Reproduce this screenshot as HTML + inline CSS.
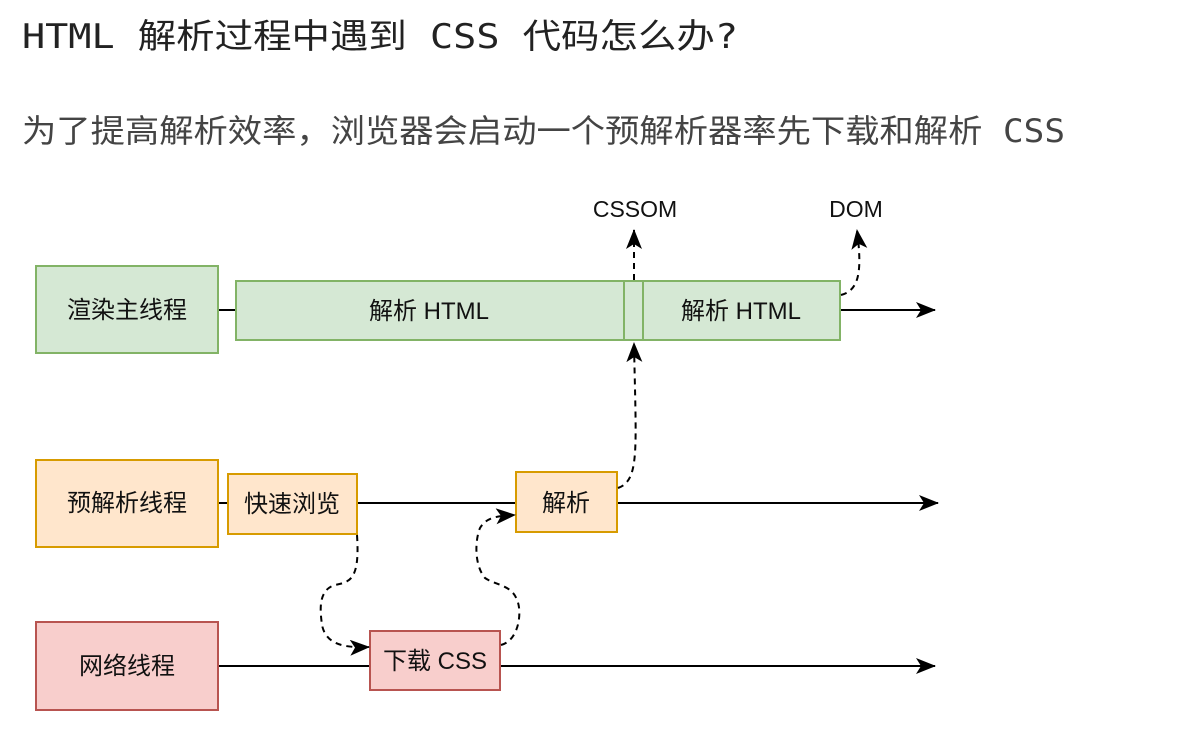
<!DOCTYPE html>
<html><head><meta charset="utf-8"><style>
body{margin:0;background:#fff;width:1195px;height:740px;overflow:hidden}
svg{display:block}
.t{font-family:"Liberation Sans","Noto Sans CJK SC",sans-serif;fill:#111;font-size:24px}
</style></head><body>
<svg width="1195" height="740" viewBox="0 0 1195 740">
<defs>
<marker id="b" markerWidth="22" markerHeight="18" refX="19" refY="8" orient="auto" markerUnits="userSpaceOnUse"><path d="M0,0 L20,8 L0,16 L5,8z" fill="#000"/></marker></defs>
<text x="22" y="48" textLength="716" lengthAdjust="spacingAndGlyphs" style="font-family:'DejaVu Sans Mono','Noto Sans CJK SC',monospace;font-size:34px;fill:#222">HTML 解析过程中遇到 CSS 代码怎么办?</text>
<text x="22" y="142" textLength="1043" lengthAdjust="spacingAndGlyphs" style="font-family:'DejaVu Sans Mono','Noto Sans CJK SC',monospace;font-size:32px;fill:#444">为了提高解析效率，浏览器会启动一个预解析器率先下载和解析 CSS</text>
<g stroke="#000" stroke-width="2" fill="none">
<line x1="218" y1="310" x2="236" y2="310"/>
<line x1="840" y1="310" x2="935" y2="310" marker-end="url(#b)"/>
<line x1="218" y1="503" x2="228" y2="503"/>
<line x1="357" y1="503" x2="516" y2="503"/>
<line x1="617" y1="503" x2="938" y2="503" marker-end="url(#b)"/>
<line x1="218" y1="666" x2="370" y2="666"/>
<line x1="500" y1="666" x2="935" y2="666" marker-end="url(#b)"/>
</g>
<g stroke-width="2">
<rect x="36" y="266" width="182" height="87" fill="#d5e8d4" stroke="#82b366"/>
<rect x="236" y="281" width="388" height="59" fill="#d5e8d4" stroke="#82b366"/>
<rect x="624" y="281" width="19" height="59" fill="#d5e8d4" stroke="#82b366"/>
<rect x="643" y="281" width="197" height="59" fill="#d5e8d4" stroke="#82b366"/>
<rect x="36" y="460" width="182" height="87" fill="#ffe6cc" stroke="#d79b00"/>
<rect x="228" y="474" width="129" height="60" fill="#ffe6cc" stroke="#d79b00"/>
<rect x="516" y="472" width="101" height="60" fill="#ffe6cc" stroke="#d79b00"/>
<rect x="36" y="622" width="182" height="88" fill="#f8cecc" stroke="#b85450"/>
<rect x="370" y="631" width="130" height="59" fill="#f8cecc" stroke="#b85450"/>
</g>
<g stroke="#000" stroke-width="2" fill="none" stroke-dasharray="6 5">
<path d="M634,280 L634,230" marker-end="url(#b)"/>
<path d="M841,295 C860,290 862,270 857,230" marker-end="url(#b)"/>
<path d="M618,488 C640,480 636,450 634,343" marker-end="url(#b)"/>
<path d="M357,535 C360,580 350,582 335,585 C318,590 320,610 322,625 C326,645 345,648 369,647" marker-end="url(#b)"/>
<path d="M501,645 C520,640 522,610 517,600 C512,585 495,585 485,578 C474,565 475,540 480,528 C487,516 500,516 515,515" marker-end="url(#b)"/>
</g>
<g class="t" text-anchor="middle">
<text x="127" y="318">渲染主线程</text>
<text x="429" y="319">解析 HTML</text>
<text x="741" y="319">解析 HTML</text>
<text x="635" y="217" style="font-size:23px">CSSOM</text>
<text x="856" y="217" style="font-size:23px">DOM</text>
<text x="127" y="511">预解析线程</text>
<text x="292" y="512">快速浏览</text>
<text x="566" y="511">解析</text>
<text x="127" y="674">网络线程</text>
<text x="435" y="669">下载 CSS</text>
</g>
</svg>
</body></html>
